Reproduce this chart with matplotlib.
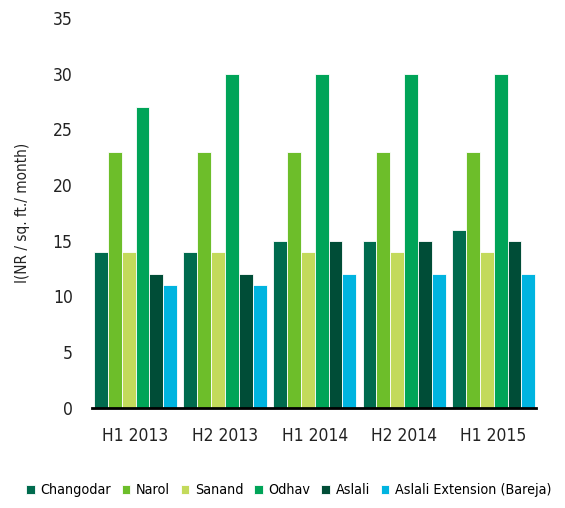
import matplotlib
matplotlib.use("Agg")
import matplotlib.pyplot as plt
import numpy as np

plt.rcParams["font.family"] = ["DejaVu Sans"]
plt.rcParams["font.stretch"] = "condensed"

periods = ["H1 2013", "H2 2013", "H1 2014", "H2 2014", "H1 2015"]
series = ["Changodar", "Narol", "Sanand", "Odhav", "Aslali", "Aslali Extension (Bareja)"]
changodar = [14, 14, 15, 15, 16]
narol = [23, 23, 23, 23, 23]
sanand = [14, 14, 14, 14, 14]
odhav = [27, 30, 30, 30, 30]
aslali = [12, 12, 15, 15, 15]
aslali_ext = [11, 11, 12, 12, 12]
values = [changodar, narol, sanand, odhav, aslali, aslali_ext]
colors = ["#006B4E", "#6DBE2A", "#C3DA5B", "#00A458", "#004D37", "#00B4E0"]

fig = plt.figure(figsize=(5.65, 5.08), dpi=100)
ax = fig.add_axes([0.163, 0.197, 0.786, 0.768])

x = np.arange(len(periods))
w = 0.155
for i, (name, vals, c) in enumerate(zip(series, values, colors)):
    ax.bar(x + (i - 2.5) * w, vals, w, color=c, edgecolor="white", linewidth=0.6, label=name)

ax.set_xlim(-0.486, 4.475)
ax.set_ylim(0, 35)
ax.set_yticks(range(0, 36, 5))
ax.set_xticks(x)
ax.set_xticklabels(periods)
ax.tick_params(axis="both", length=0, labelsize=12.5, colors="#222222")
ax.tick_params(axis="y", pad=14)
ax.tick_params(axis="x", pad=14)
for s in ["top", "right", "left"]:
    ax.spines[s].set_visible(False)
ax.spines["bottom"].set_linewidth(2)
ax.set_ylabel("I(NR / sq. ft./ month)", fontsize=11, color="#222222", labelpad=16)

fig.legend(loc="center", bbox_to_anchor=(0.511, 0.035), ncol=6, frameon=False,
           fontsize=10.3, handlelength=0.6, handleheight=0.6, handletextpad=0.4,
           columnspacing=0.75)

fig.savefig("out.png", dpi=100)
